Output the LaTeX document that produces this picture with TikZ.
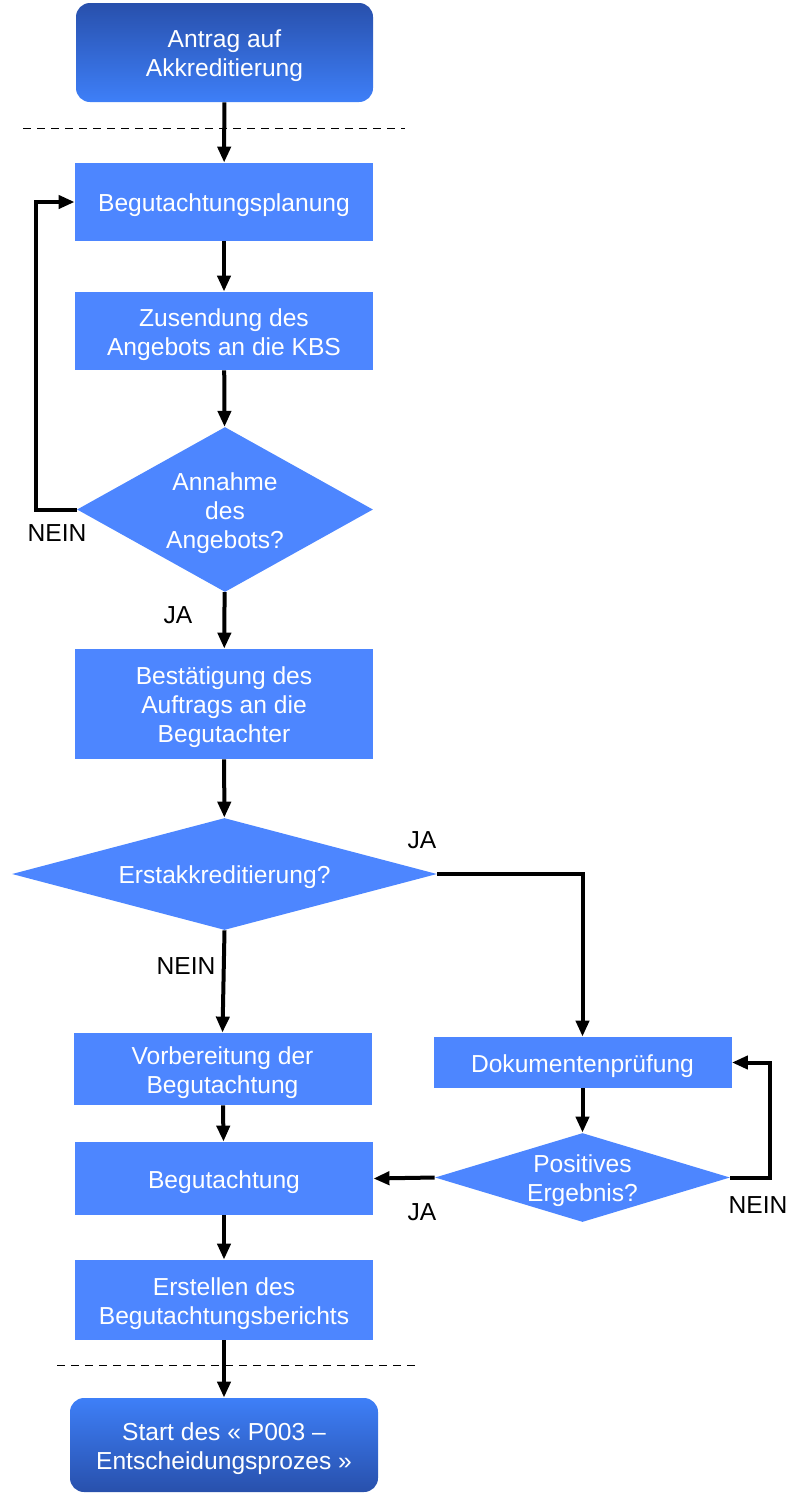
\documentclass[tikz,border=0pt]{standalone}
\usepackage{fontspec}
\setmainfont{Liberation Sans}
\usetikzlibrary{arrows.meta,shapes}
\definecolor{procblue}{RGB}{77,134,255}
\definecolor{termdark}{RGB}{40,80,172}
\definecolor{termlight}{RGB}{62,127,248}
\newcommand{\boxfont}{\fontsize{12.3}{14.5}\selectfont}
\newcommand{\boxstrut}{\rule{0pt}{12.5pt}}
\tikzstyle{boxtext}=[font=\boxfont,text=white,align=center,inner sep=0pt]
\tikzstyle{process}=[boxtext,rectangle,fill=procblue,minimum width=149pt]
\tikzstyle{decision}=[boxtext,diamond,fill=procblue]
\tikzstyle{terminal}=[boxtext,rectangle,rounded corners=7pt]
\tikzstyle{edge}=[draw,line width=2pt,-{Triangle[length=8pt,width=6.5pt]}]
\tikzstyle{answer}=[font=\boxfont,text=black,inner sep=0pt]
\tikzstyle{divider}=[draw,thin,dash pattern=on 4pt off 3pt]

\begin{document}
\begin{tikzpicture}[x=0.5pt,y=-0.5pt]

    \useasboundingbox (0,0) rectangle (790,1494);

    % start and end of the process
    \node[terminal, minimum width=148.5pt, minimum height=49.5pt,
          top color=termdark, bottom color=termlight] (antrag) at (224.5,52.5) {\boxstrut Antrag auf\\Akkreditierung};
    \node[terminal, minimum width=154pt, minimum height=47pt,
          top color=termlight, bottom color=termdark] (start) at (224,1445) {\boxstrut Start des « P003 –\\Entscheidungsprozes »};

    \foreach \x/\y/\h/\name/\txt in {224/202/39/plan/Begutachtungsplanung,
                                     224/331/39/zusend/{Zusendung des\\Angebots an die KBS},
                                     224/704/55/bestaet/{Bestätigung des\\Auftrags an die\\Begutachter},
                                     222.5/1069/36/vorb/{Vorbereitung der\\Begutachtung},
                                     582.5/1062.5/25.5/dokpruef/Dokumentenprüfung,
                                     224/1178.5/36.5/begut/Begutachtung,
                                     224/1300/40/bericht/{Erstellen des\\Begutachtungsberichts}}
        \node[process, minimum height=\h pt] (\name) at (\x,\y) {\boxstrut\txt};

    \node[decision, minimum width=148pt, minimum height=82.5pt, shape aspect=1.79] (annahme) at (225,509.5) {\boxstrut Annahme\\des\\Angebots?};
    \node[decision, minimum width=212.5pt, minimum height=56pt, shape aspect=3.8] (erst) at (224.5,874) {\boxstrut Erstakkreditierung?};
    \node[decision, minimum width=147.5pt, minimum height=44.5pt, shape aspect=3.3, inner sep=-3pt] (positiv) at (582.5,1177.5) {\boxstrut Positives\\Ergebnis?};

    % dashed separators
    \draw[divider] (23,128) -- (405,128);
    \draw[divider] (57,1365) -- (416,1365);

    \path[edge] (antrag) -- (plan);
    \path[edge] (plan) -- (zusend);
    \path[edge] (zusend) -- (annahme);
    \path[edge] (annahme) -- (bestaet);
    \path[edge] (annahme.west) -- ++(-41,0) |- (plan.west);
    \path[edge] (bestaet) -- (erst);
    \path[edge] (erst.south) -- (vorb.north);
    \path[edge] (erst.east) -| (dokpruef.north);
    \path[edge] (vorb) -- (begut);
    \path[edge] (dokpruef) -- (positiv);
    \path[edge] (positiv.west) -- (begut.east);
    \path[edge] (positiv.east) -- ++(40,0) |- (dokpruef.east);
    \path[edge] (begut) -- (bericht);
    \path[edge] (bericht) -- (start);

    \node[answer] (nein1) at (57,533) {NEIN};
    \node[answer] (ja1) at (178,615) {JA};
    \node[answer] (ja2) at (422,840) {JA};
    \node[answer] (nein2) at (186,966) {NEIN};
    \node[answer] (ja3) at (422,1212) {JA};
    \node[answer] (nein3) at (758,1205) {NEIN};

\end{tikzpicture}
\end{document}
